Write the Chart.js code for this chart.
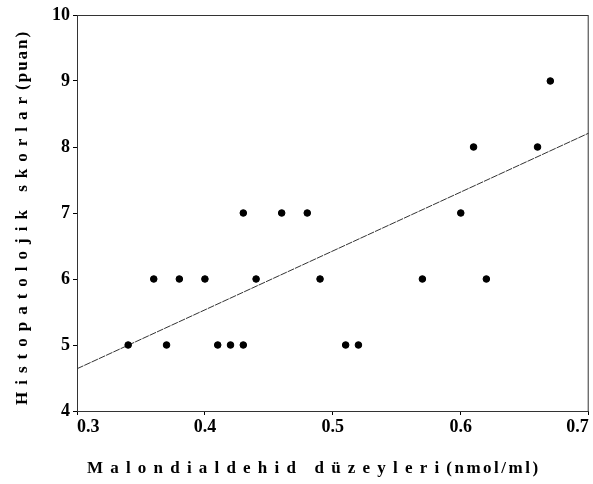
<!DOCTYPE html>
<html>
<head>
<meta charset="utf-8">
<script src="https://cdn.jsdelivr.net/npm/chart.js@4.4.1/dist/chart.umd.min.js"></script>
<style>
  html, body { margin: 0; padding: 0; background: #fff; }
  #wrap { width: 593px; height: 484px; }
</style>
</head>
<body>
<div id="wrap"><canvas id="chart"></canvas></div>
<script>
// MDA levels (nmol/ml) and histopathology scores
const mdaLevels = [0.34, 0.36, 0.37, 0.38, 0.40, 0.41, 0.42, 0.43, 0.43, 0.44, 0.46,
                   0.48, 0.49, 0.51, 0.52, 0.57, 0.60, 0.61, 0.62, 0.66, 0.67];
const scores    = [5, 6, 5, 6, 6, 5, 5, 5, 7, 6, 7,
                   7, 6, 5, 5, 6, 7, 8, 6, 8, 9];

// regression line end points
const fitX = [0.3, 0.7];
const fitY = [4.64, 8.21];

const xTicks = [0.3, 0.4, 0.5, 0.6, 0.7];
const yTicks = [4, 5, 6, 7, 8, 9, 10];

const xTitle = ['Malondialdehid düzeyleri', '(nmol/ml)'];
const yTitle = ['Histopatolojik skorlar', '(puan)'];

const FONT = '"Liberation Serif", "Times New Roman", serif';

function drawRuns(ctx, runs, x, y) {
  runs.forEach(r => {
    ctx.letterSpacing = r.spacing + 'px';
    ctx.fillText(r.text, x, y);
    x += ctx.measureText(r.text).width + r.gap;
  });
  ctx.letterSpacing = '0px';
}

const frameAndTitles = {
  id: 'frameAndTitles',
  afterDraw(chart) {
    const { ctx, chartArea: a } = chart;
    ctx.save();
    ctx.strokeStyle = '#333';
    ctx.lineWidth = 1;
    ctx.strokeRect(a.left + 0.5, a.top + 0.5, a.right - a.left - 1, a.bottom - a.top);

    ctx.fillStyle = '#000';
    ctx.font = 'bold 17px ' + FONT;
    ctx.textBaseline = 'alphabetic';
    ctx.textAlign = 'left';
    drawRuns(ctx, [
      { text: xTitle[0], spacing: 7.2, gap: 0 },
      { text: xTitle[1], spacing: 2.5, gap: 0 }
    ], 87, 473);

    ctx.translate(27, 405);
    ctx.rotate(-Math.PI / 2);
    drawRuns(ctx, [
      { text: yTitle[0], spacing: 7, gap: 0 },
      { text: yTitle[1], spacing: 2, gap: 0 }
    ], 0, 0);
    ctx.restore();
  }
};

const tickFont = { family: FONT, size: 18, weight: 'bold' };

new Chart(document.getElementById('chart'), {
  type: 'scatter',
  data: {
    datasets: [
      {
        label: 'Skor',
        data: mdaLevels.map((x, i) => ({ x, y: scores[i] })),
        backgroundColor: '#000',
        borderColor: '#000',
        pointStyle: 'circle',
        pointRadius: 3.3,
        pointHoverRadius: 3.3
      },
      {
        type: 'line',
        label: 'Fit',
        data: fitX.map((x, i) => ({ x, y: fitY[i] })),
        borderColor: '#333',
        borderWidth: 1,
        borderDash: [7, 1],
        pointRadius: 0,
        fill: false
      }
    ]
  },
  options: {
    responsive: true,
    maintainAspectRatio: false,
    animation: false,
    layout: { padding: { top: 15, right: 3, left: 0, bottom: 0 } },
    plugins: {
      legend: { display: false },
      tooltip: { enabled: false }
    },
    scales: {
      x: {
        type: 'linear',
        min: 0.3,
        max: 0.7,
        afterBuildTicks: s => { s.ticks = xTicks.map(v => ({ value: v })); },
        afterFit: s => { s.height = 73; s.paddingRight = 0; s.paddingLeft = 0; },
        ticks: {
          color: '#000',
          font: tickFont,
          padding: 2,
          align: 'inner',
          maxRotation: 0,
          callback: v => v.toFixed(1)
        },
        grid: { drawOnChartArea: false, drawTicks: true, tickLength: 4, color: '#000' },
        border: { display: true, color: '#333', width: 1 }
      },
      y: {
        type: 'linear',
        min: 4,
        max: 10,
        afterBuildTicks: s => { s.ticks = yTicks.map(v => ({ value: v })); },
        afterFit: s => { s.width = 77; s.paddingTop = 0; s.paddingBottom = 0; },
        ticks: {
          color: '#000',
          font: tickFont,
          padding: 3,
          callback: v => String(v)
        },
        grid: { drawOnChartArea: false, drawTicks: true, tickLength: 4, color: '#000' },
        border: { display: true, color: '#333', width: 1 }
      }
    }
  },
  plugins: [frameAndTitles]
});
</script>
</body>
</html>
